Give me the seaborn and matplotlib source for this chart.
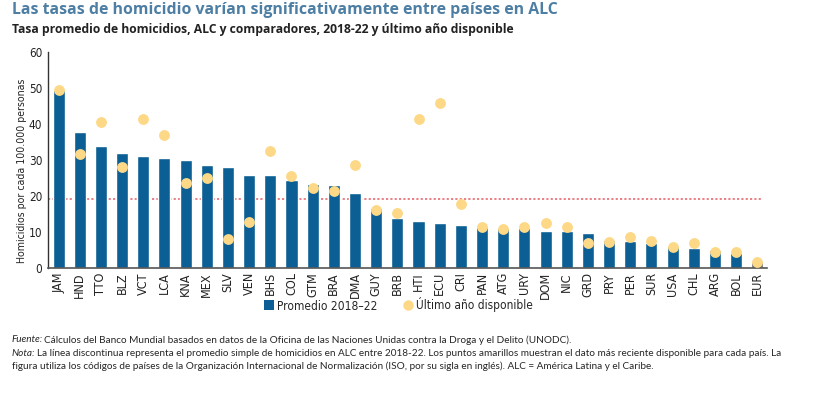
import matplotlib
matplotlib.use("Agg")
import matplotlib.pyplot as plt
import seaborn as sns
import pandas as pd
from matplotlib.lines import Line2D
from matplotlib import font_manager as fm

countries = ["JAM", "HND", "TTO", "BLZ", "VCT", "LCA", "KNA", "MEX", "SLV", "VEN",
             "BHS", "COL", "GTM", "BRA", "DMA", "GUY", "BRB", "HTI", "ECU", "CRI",
             "PAN", "ATG", "URY", "DOM", "NIC", "GRD", "PRY", "PER", "SUR", "USA",
             "CHL", "ARG", "BOL", "EUR"]
avg_2018_22 = [49.4, 37.7, 33.8, 31.9, 31.0, 30.5, 29.9, 28.5, 28.0, 25.7,
               25.7, 24.4, 23.2, 23.0, 20.7, 16.6, 13.8, 13.0, 12.4, 11.9,
               11.3, 11.0, 11.0, 10.2, 10.2, 9.6, 7.7, 7.4, 6.9, 6.0,
               5.5, 4.9, 4.1, 1.6]
latest = [49.4, 31.6, 40.6, 28.1, 41.3, 37.0, 23.7, 25.0, 8.0, 12.8,
          32.4, 25.5, 22.1, 21.3, 28.6, 16.0, 15.4, 41.3, 45.8, 17.9,
          11.5, 10.8, 11.4, 12.5, 11.5, 6.9, 7.1, 8.7, 7.4, 5.8,
          6.9, 4.4, 4.4, 1.6]
alc_mean = 19.2

BLUE = "#0b5f94"
GREY = "#6b6b6b"
YELLOW = "#fdd887"
RED = "#e8767c"
TITLE_C = "#4d7ea3"

sns.set_style("white")


def score(f):
    s = 0
    w = f.weight if isinstance(f.weight, int) else (700 if "bold" in str(f.weight).lower() else 400)
    s += abs(w - 400) / 100
    if f.style != "normal":
        s += 10
    return s


cond_files = [f for f in fm.fontManager.ttflist
              if ("Condensed" in f.fname or "Narrow" in f.fname or "condensed" in str(f.stretch))
              and "SemiCondensed" not in f.fname]
cond_files.sort(key=score)
COND_FILE = cond_files[0].fname if cond_files else None
NARROW = ["Roboto", "DejaVu Sans"]
plt.rcParams["font.family"] = NARROW


def nprop(size):
    if COND_FILE:
        return fm.FontProperties(fname=COND_FILE, size=size)
    return fm.FontProperties(family=NARROW, size=size)


df = pd.DataFrame({"pais": countries, "promedio": avg_2018_22, "ultimo": latest})
palette = {c: (GREY if c == "EUR" else BLUE) for c in countries}

fig = plt.figure(figsize=(8.19, 3.95), dpi=100)
ax = fig.add_axes([48 / 819, 1 - 268 / 395, (767 - 48) / 819, (268 - 52) / 395])

sns.barplot(data=df, x="pais", y="promedio", hue="pais", palette=palette,
            width=0.57, legend=False, ax=ax, zorder=2, saturation=1)
ax.axhline(alc_mean, xmin=0, xmax=0.993, color=RED, linestyle=(0, (1.2, 1.2)), lw=1.3, zorder=1)
sns.stripplot(data=df, x="pais", y="ultimo", color=YELLOW, size=7.8, jitter=False,
              ax=ax, zorder=3, linewidth=0)

ax.set_xlim(-0.5, 33.46)
ax.set_ylim(0, 60)
ax.set_yticks([0, 10, 20, 30, 40, 50, 60])
ax.set_xlabel("")
ax.set_ylabel("")
ax.tick_params(axis="x", length=0, pad=3, colors="#222222")
ax.tick_params(axis="y", length=0, pad=4, colors="#222222")
for lab in ax.get_xticklabels():
    lab.set_fontproperties(nprop(9))
    lab.set_rotation(90)
for lab in ax.get_yticklabels():
    lab.set_fontproperties(nprop(8.5))
for s in ["top", "right"]:
    ax.spines[s].set_visible(False)
ax.spines["left"].set_color("#333333")
ax.spines["left"].set_linewidth(1.0)
ax.spines["bottom"].set_color("#555555")
ax.spines["bottom"].set_linewidth(1.2)

fig.text(22 / 819, 1 - 263 / 395, "Homicidios por cada 100.000 personas",
         fontproperties=nprop(7.6), color="#222222", rotation=90, ha="center", va="bottom")

handles = [Line2D([0], [0], marker="s", color="none", markerfacecolor=BLUE, markeredgewidth=0,
                  markersize=7.5, label="Promedio 2018\u201322"),
           Line2D([0], [0], marker="o", color="none", markerfacecolor=YELLOW, markeredgewidth=0,
                  markersize=7.5, label="\u00daltimo a\u00f1o disponible")]
fig.legend(handles=handles, loc="center", bbox_to_anchor=(398 / 819, 1 - 305 / 395),
           ncol=2, frameon=False, prop=nprop(8.6), handletextpad=0.2, columnspacing=2.0,
           handlelength=1.0)

fig.text(12 / 819, 1 - 10 / 395,
         "Las tasas de homicidio var\u00edan significativamente entre pa\u00edses en ALC",
         fontsize=11.4, fontweight="bold", color=TITLE_C, family=["Open Sans", "DejaVu Sans"],
         va="center", ha="left")
fig.text(12 / 819, 1 - 30 / 395,
         "Tasa promedio de homicidios, ALC y comparadores, 2018-22 y \u00faltimo a\u00f1o disponible",
         fontsize=8.7, fontweight="bold", color="#222222", family=["Open Sans", "DejaVu Sans"],
         va="center", ha="left")

FOOT = ["Lato", "DejaVu Sans"]
fs = 7.2
y1 = 1 - 340 / 395
fig.text(12 / 819, y1, "Fuente:", fontsize=fs, style="italic", family=FOOT, va="center")
fig.text(44 / 819, y1, "C\u00e1lculos del Banco Mundial basados en datos de la Oficina de las Naciones Unidas contra la Droga y el Delito (UNODC).",
         fontsize=fs, family=FOOT, va="center")
y2 = 1 - 353 / 395
fig.text(12 / 819, y2, "Nota:", fontsize=fs, style="italic", family=FOOT, va="center")
fig.text(37 / 819, y2, "La l\u00ednea discontinua representa el promedio simple de homicidios en ALC entre 2018-22. Los puntos amarillos muestran el dato m\u00e1s reciente disponible para cada pa\u00eds. La",
         fontsize=fs, family=FOOT, va="center")
y3 = 1 - 366 / 395
fig.text(12 / 819, y3, "figura utiliza los c\u00f3digos de pa\u00edses de la Organizaci\u00f3n Internacional de Normalizaci\u00f3n (ISO, por su sigla en ingl\u00e9s). ALC = Am\u00e9rica Latina y el Caribe.",
         fontsize=fs, family=FOOT, va="center")

fig.savefig("out.png", dpi=100)
